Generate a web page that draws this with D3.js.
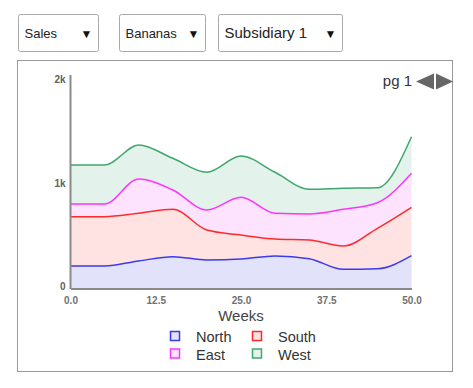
<!DOCTYPE html>
<html>
<head>
<meta charset="utf-8">
<script src="https://cdn.jsdelivr.net/npm/d3@7"></script>
<style>
  body { margin: 0; background: #fff; font-family: "Liberation Sans", Arial, sans-serif; }
  svg { display: block; }
</style>
</head>
<body>
<svg width="473" height="388"></svg>
<script>
// data
const weeks = [0, 5, 10, 15, 20, 25, 30, 35, 40, 45, 50];
const regions = ["North", "South", "East", "West"];
const north = [213, 213, 261, 302, 271, 280, 309, 283, 181, 186, 312];
const south = [476, 476, 461, 458, 289, 232, 164, 181, 225, 391, 468];
const east = [123, 123, 331, 187, 194, 364, 249, 251, 354, 247, 328];
const west = [376, 376, 329, 306, 364, 399, 396, 239, 203, 145, 354];
const xTicks = [0, 12.5, 25, 37.5, 50];
const yTicks = [0, 1000, 2000];
const menus = ["Sales", "Bananas", "Subsidiary 1"];

const strokes = ["#3a3af0", "#ff2a2a", "#ff33ff", "#3fa66e"];
const fills = ["#e2e2fb", "#ffe3e3", "#fee3fe", "#e3f2ea"];

const rows = weeks.map((w, i) => ({
  week: w, North: north[i], South: south[i], East: east[i], West: west[i]
}));

const svg = d3.select("svg");

// fake dropdowns
const menuBoxes = [
  { x: 18.5, w: 80, fs: 13 },
  { x: 119.5, w: 86, fs: 13 },
  { x: 218.5, w: 124, fs: 15 }
];
const menu = svg.selectAll("g.menu")
  .data(menus)
  .enter()
  .append("g")
  .attr("class", "menu")
  .attr("transform", (d, i) => `translate(${menuBoxes[i].x},14.5)`);

menu.append("rect")
  .attr("width", (d, i) => menuBoxes[i].w)
  .attr("height", 37)
  .attr("rx", 2)
  .attr("fill", "#fff")
  .attr("stroke", "#a9a9a9");

menu.append("text")
  .attr("x", 6)
  .attr("y", 23)
  .attr("font-size", (d, i) => menuBoxes[i].fs)
  .attr("fill", "#222")
  .text(d => d);

menu.append("text")
  .attr("x", (d, i) => menuBoxes[i].w - 12)
  .attr("y", 23)
  .attr("text-anchor", "middle")
  .attr("font-size", 12)
  .attr("fill", "#111")
  .text("▼");

// panel
svg.append("rect")
  .attr("x", 17.5)
  .attr("y", 60.5)
  .attr("width", 435)
  .attr("height", 311)
  .attr("fill", "none")
  .attr("stroke", "#999");

svg.append("text")
  .attr("x", 412)
  .attr("y", 86)
  .attr("text-anchor", "end")
  .attr("font-size", 15)
  .attr("fill", "#333")
  .text("pg 1");

svg.append("path")
  .attr("d", "M416,81.5L434,73.5L434,89.5Z")
  .attr("fill", "#666");
svg.append("path")
  .attr("d", "M436,73.5L453,81.5L436,89.5Z")
  .attr("fill", "#666");

// chart
const x = d3.scaleLinear().domain([0, 50]).range([70.5, 411.5]);
const y = d3.scaleLinear().domain([0, 2000]).range([288, 81]);

const stack = d3.stack().keys(regions);
const series = stack(rows);

const area = d3.area()
  .curve(d3.curveMonotoneX)
  .x(d => x(d.data.week))
  .y0(d => y(d[0]))
  .y1(d => y(d[1]));

const line = d3.line()
  .curve(d3.curveMonotoneX)
  .x(d => x(d.data.week))
  .y(d => y(d[1]));

svg.append("g")
  .selectAll("path")
  .data(series)
  .enter()
  .append("path")
  .attr("d", area)
  .attr("fill", (d, i) => fills[i]);

svg.append("g")
  .selectAll("path")
  .data(series)
  .enter()
  .append("path")
  .attr("d", line)
  .attr("fill", "none")
  .attr("stroke", (d, i) => strokes[i])
  .attr("stroke-width", 1.5);

// axes
const xAxis = svg.append("g")
  .attr("transform", "translate(0,288.5)")
  .call(d3.axisBottom(x).tickValues(xTicks).tickSize(0).tickPadding(8).tickFormat(d3.format(".1f")));
xAxis.select(".domain").attr("stroke", "#8a8a8a").attr("stroke-width", 2);
xAxis.selectAll("text")
  .attr("font-size", 10)
  .attr("font-weight", "bold")
  .attr("fill", "#707070")
  .attr("font-family", "'Liberation Sans', Arial, sans-serif");

const yAxis = svg.append("g")
  .attr("transform", "translate(70.5,0)")
  .call(d3.axisLeft(y).tickValues(yTicks).tickSize(0).tickPadding(5).tickFormat(d => d === 0 ? "0" : d / 1000 + "k"));
yAxis.select(".domain").attr("d", "M0,75V289").attr("stroke", "#8a8a8a").attr("stroke-width", 2);
yAxis.selectAll("text")
  .attr("font-size", 10)
  .attr("font-weight", "bold")
  .attr("fill", "#606060")
  .attr("dy", "0.15em")
  .attr("font-family", "'Liberation Sans', Arial, sans-serif");

svg.append("text")
  .attr("x", 241)
  .attr("y", 321)
  .attr("text-anchor", "middle")
  .attr("font-size", 15)
  .attr("fill", "#444")
  .text("Weeks");

// legend
const legend = svg.append("g")
  .selectAll("g")
  .data(regions)
  .enter()
  .append("g")
  .attr("transform", (d, i) => `translate(${170 + (i % 2) * 82},${331 + Math.floor(i / 2) * 17.5})`);

legend.append("rect")
  .attr("x", 0.5)
  .attr("y", 0.5)
  .attr("width", 9)
  .attr("height", 9)
  .attr("fill", (d, i) => fills[i])
  .attr("stroke", (d, i) => strokes[i])
  .attr("stroke-width", 1.5);

legend.append("text")
  .attr("x", 26)
  .attr("y", 11)
  .attr("font-size", 14.5)
  .attr("fill", "#333")
  .text(d => d);
</script>
</body>
</html>
